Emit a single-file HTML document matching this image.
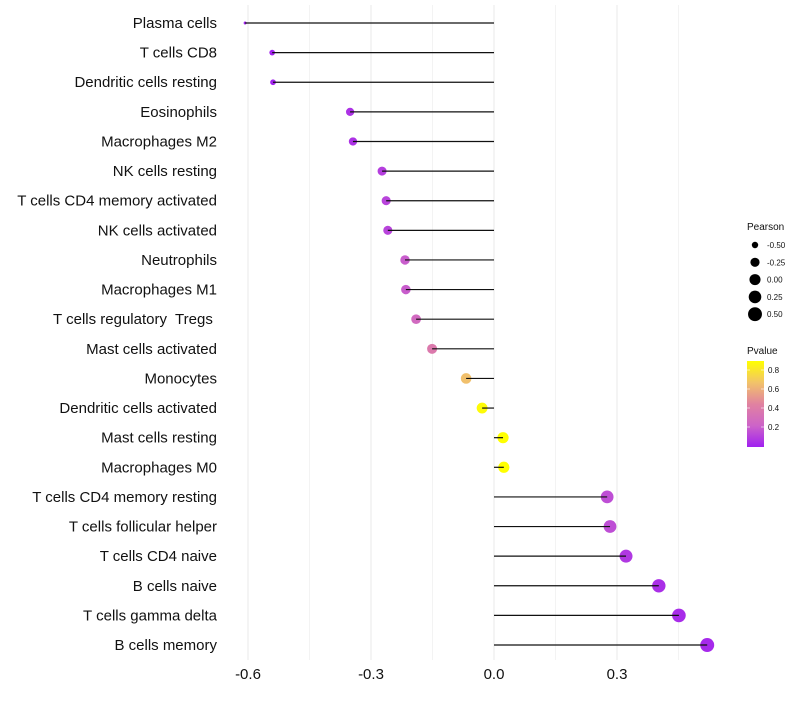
<!DOCTYPE html>
<html><head><meta charset="utf-8"><style>
body{margin:0;background:#fff;font-family:"Liberation Sans",sans-serif}
text{white-space:pre}
</style></head><body>
<svg id="c" width="800" height="700" xmlns="http://www.w3.org/2000/svg" font-family="Liberation Sans, sans-serif"></svg>
<script>
const categories=["Plasma cells","T cells CD8","Dendritic cells resting","Eosinophils","Macrophages M2","NK cells resting","T cells CD4 memory activated","NK cells activated","Neutrophils","Macrophages M1","T cells regulatory  Tregs ","Mast cells activated","Monocytes","Dendritic cells activated","Mast cells resting","Macrophages M0","T cells CD4 memory resting","T cells follicular helper","T cells CD4 naive","B cells naive","T cells gamma delta","B cells memory"];
const pearson=[-0.607,-0.541,-0.539,-0.351,-0.344,-0.273,-0.263,-0.259,-0.217,-0.215,-0.19,-0.151,-0.068,-0.029,0.022,0.024,0.276,0.283,0.322,0.402,0.451,0.52];
const pvalue=[0.005,0.01,0.01,0.06,0.06,0.1,0.12,0.12,0.2,0.2,0.27,0.38,0.66,0.88,0.9,0.9,0.15,0.15,0.08,0.05,0.04,0.03];
const xTicks=[-0.6,-0.3,0.0,0.3];
const xTickLabels=["-0.6","-0.3","0.0","0.3"];
const legendSizes=[-0.5,-0.25,0,0.25,0.5];
const legendSizeLabels=["-0.50","-0.25","0.00","0.25","0.50"];
const pTicks=[0.2,0.4,0.6,0.8];
const NS="http://www.w3.org/2000/svg",svg=document.getElementById('c');
const x=v=>494+v*410, y=i=>23+i*29.62, r=v=>1.5+5.5*Math.sqrt(Math.max(v+0.607,0)/1.127);
function mk(t,a,p){const e=document.createElementNS(NS,t);for(const k in a)e.setAttribute(k,a[k]);(p||svg).appendChild(e);return e;}
function lerp(a,b,t){return a.map((v,i)=>Math.round(v+(b[i]-v)*t));}
function col(p){const t=Math.min(p/0.895,1);const s=[[160,32,240],[205,100,200],[225,130,160],[242,195,105],[255,255,0]];const f=t*4,i=Math.min(Math.floor(f),3);const c=lerp(s[i],s[i+1],f-i);return `rgb(${c})`;}
[-0.45,-0.3,-0.15,0.15,0.3,0.45,-0.6,0].forEach(v=>{const g=mk('line',{x1:x(v),x2:x(v),y1:5,y2:660,stroke:'#ebebeb','stroke-width':Math.abs(Math.round(v*100))%30==0?1.1:0.6});

});
xTicks.forEach((v,i)=>{const t=mk('text',{x:x(v),y:679,'text-anchor':'middle','font-size':15,fill:'#111'});t.textContent=xTickLabels[i];

});
categories.forEach((c,i)=>{
const t=mk('text',{x:217,y:y(i)+5,'text-anchor':'end','font-size':15,fill:'#111'});t.textContent=c;


const d=mk('circle',{cx:x(pearson[i]),cy:y(i),r:r(pearson[i]),fill:col(pvalue[i])});


const l=mk('line',{x1:x(0),x2:x(pearson[i]),y1:y(i),y2:y(i),stroke:'#111','stroke-width':1.2});


});
let t=mk('text',{x:747,y:230,'font-size':10,fill:'#111'});t.textContent='Pearson';


legendSizes.forEach((v,i)=>{const cy=245+i*17.3;const c=mk('circle',{cx:755,cy:cy,r:r(v),fill:'#000'});


const l=mk('text',{x:767,y:cy+3,'font-size':8,fill:'#111'});l.textContent=legendSizeLabels[i];

});
t=mk('text',{x:747,y:354,'font-size':10,fill:'#111'});t.textContent='Pvalue';


const defs=mk('defs',{});const g=mk('linearGradient',{id:'pg',x1:0,y1:1,x2:0,y2:0},defs);
[0,0.25,0.5,0.75,1].forEach(o=>mk('stop',{offset:o,'stop-color':col(o*0.895)},g));
const bar=mk('rect',{x:747,y:361,width:17,height:86,fill:'url(#pg)'});


pTicks.forEach(v=>{const yy=446-v*95;mk('line',{x1:747,x2:750,y1:yy,y2:yy,stroke:'#fff','stroke-width':0.6});mk('line',{x1:761,x2:764,y1:yy,y2:yy,stroke:'#fff','stroke-width':0.6});
const l=mk('text',{x:768,y:yy+3,'font-size':8,fill:'#111'});l.textContent=v.toFixed(1);

});
</script>
</body></html>
